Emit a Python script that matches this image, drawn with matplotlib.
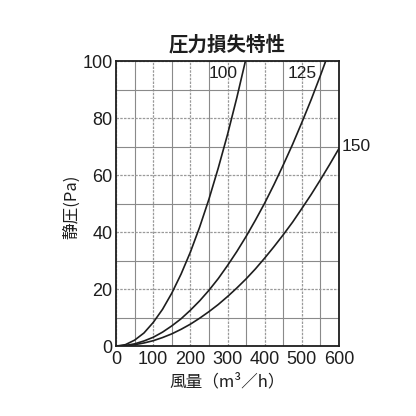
import numpy as np
import matplotlib
matplotlib.use("Agg")
from matplotlib import pyplot as plt
from matplotlib.ticker import MultipleLocator

# values (air volume m3/h vs static pressure Pa)
q_100 = [0, 25, 50, 75, 100, 125, 150, 175, 200, 225, 250, 275, 300, 325, 348]
p_100 = [0, 0.5, 2.1, 4.6, 8.3, 12.9, 18.6, 25.3, 33.0, 41.8, 51.6, 62.5, 74.3, 87.2, 100]

q_125 = [0, 25, 50, 75, 100, 125, 150, 175, 200, 225, 250, 275, 300, 325, 350,
         375, 400, 425, 450, 475, 500, 525, 550, 564]
p_125 = [0, 0.2, 0.8, 1.8, 3.1, 4.9, 7.1, 9.6, 12.6, 15.9, 19.6, 23.7, 28.3, 33.2, 38.5,
         44.2, 50.2, 56.7, 63.6, 70.8, 78.5, 86.5, 95.0, 100]

q_150 = [0, 25, 50, 75, 100, 125, 150, 175, 200, 225, 250, 275, 300, 325, 350,
         375, 400, 425, 450, 475, 500, 525, 550, 575, 600]
p_150 = [0, 0.1, 0.5, 1.1, 1.9, 3.0, 4.3, 5.9, 7.7, 9.8, 12.1, 14.6, 17.4, 20.4, 23.6,
         27.1, 30.9, 34.9, 39.1, 43.5, 48.3, 53.2, 58.4, 63.8, 69.4]

curve_names = ["100", "125", "150"]

num_font = ["Liberation Sans", "DejaVu Sans"]
jp_font = ["Noto Sans CJK JP", "DejaVu Sans"]
ink = "#1e1e1e"

fig = plt.figure(figsize=(4.16, 4.16), dpi=100)
ax = fig.add_axes([0.279, 0.168, 0.536, 0.685])

ax.set_xlim(0, 600)
ax.set_ylim(0, 100)
ax.xaxis.set_major_locator(MultipleLocator(100))
ax.xaxis.set_minor_locator(MultipleLocator(50))
ax.yaxis.set_major_locator(MultipleLocator(20))
ax.yaxis.set_minor_locator(MultipleLocator(10))
ax.grid(which="major", color="#9a9a9a", linestyle=(0, (2, 1)), linewidth=0.9)
ax.grid(which="minor", color="#8a8a8a", linestyle="-", linewidth=0.8)
ax.set_axisbelow(True)
ax.tick_params(which="both", length=0, labelsize=13)
ax.tick_params(axis="x", pad=3.5)
ax.tick_params(axis="y", pad=2.5)
for lab in ax.get_xticklabels() + ax.get_yticklabels():
    lab.set_family(num_font)
    lab.set_color(ink)
for sp in ax.spines.values():
    sp.set_linewidth(1.3)
    sp.set_color(ink)

for q, p in [(q_100, p_100), (q_125, p_125), (q_150, p_150)]:
    ax.plot(q, p, color=ink, linewidth=1.2)

ax.text(327, 95.6, curve_names[0], ha="right", va="center",
        family=num_font, fontsize=12.5, color=ink)
ax.text(540, 95.6, curve_names[1], ha="right", va="center",
        family=num_font, fontsize=12.5, color=ink)
ax.text(608, 70.2, curve_names[2], ha="left", va="center",
        family=num_font, fontsize=12.5, color=ink, clip_on=False)

fig.text(0.546, 0.892, "圧力損失特性", ha="center", va="center",
         family=jp_font, fontsize=14, weight="bold", color=ink)
fig.text(0.546, 0.082, "風量（m³／h）", ha="center", va="center",
         family=jp_font, fontsize=12, color=ink)
fig.text(0.173, 0.502, "静圧(Pa)", ha="center", va="center", rotation=90,
         family=jp_font, fontsize=12, color=ink)

fig.savefig("out.png", dpi=100)
